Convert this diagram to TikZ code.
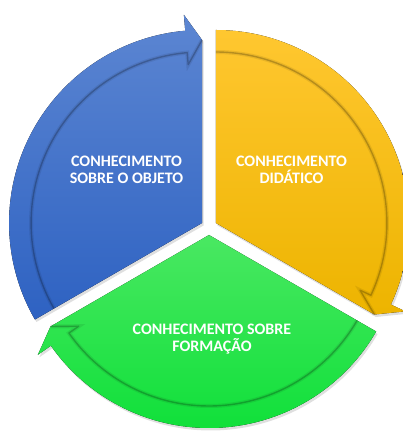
\documentclass[tikz,border=0pt]{standalone}
\usepackage{fontspec}
\setmainfont{Carlito}
\usetikzlibrary{calc,shadows}
\definecolor{bluetop}{RGB}{92,134,210}
\definecolor{bluebot}{RGB}{46,98,194}
\definecolor{yellowtop}{RGB}{255,199,48}
\definecolor{yellowbot}{RGB}{237,180,0}
\definecolor{greentop}{RGB}{74,232,98}
\definecolor{greenbot}{RGB}{16,224,58}
\tikzstyle{segment} = [draw=none, drop shadow={opacity=0.25, shadow xshift=1.5pt, shadow yshift=-2.5pt}]
\tikzstyle{bandline} = [line width=1.4pt, draw=black, opacity=0.22, line join=round, preaction={draw=black, opacity=0.08, line width=4pt}]
\tikzstyle{segtext} = [text=white, align=center, font=\fontsize{16}{17.6}\selectfont\bfseries]

\begin{document}
\begin{tikzpicture}[x=1pt, y=1pt]
  \useasboundingbox (0,0) rectangle (402,431);
  \coordinate (cb) at (202.07,208);
  \coordinate (cy) at (215.93,208);
  \coordinate (cg) at (209,196);

  \fill [segment, top color=greentop, bottom color=greenbot] (cg) -- ($(cg)+(-30:193)$) arc[start angle=-30, end angle=-145, radius=193] -- ($(cg)+(-145:209)$) -- ($(cg)+(-150:183)$) -- cycle;
  \draw [bandline] ($(cg)+(-150:183)$) -- ($(cg)+(-145:159)$) -- ($(cg)+(-145:171)$) arc[start angle=-145, end angle=-30, radius=171];

  \fill [segment, top color=bluetop, bottom color=bluebot] (cb) -- ($(cb)+(210:193)$) arc[start angle=210, end angle=95, radius=193] -- ($(cb)+(95:209)$) -- ($(cb)+(90:183)$) -- cycle;
  \draw [bandline] ($(cb)+(90:183)$) -- ($(cb)+(95:159)$) -- ($(cb)+(95:171)$) arc[start angle=95, end angle=210, radius=171];

  \fill [segment, top color=yellowtop, bottom color=yellowbot] (cy) -- ($(cy)+(90:193)$) arc[start angle=90, end angle=-25, radius=193] -- ($(cy)+(-25:209)$) -- ($(cy)+(-30:183)$) -- cycle;
  \draw [bandline] ($(cy)+(-30:183)$) -- ($(cy)+(-25:159)$) -- ($(cy)+(-25:171)$) arc[start angle=-25, end angle=90, radius=171];

  \node (objeto) [segtext] at (126.5,261) {CONHECIMENTO\\SOBRE O OBJETO};
  \node (didatico) [segtext] at (291.5,261) {CONHECIMENTO\\DIDÁTICO};
  \node (formacao) [segtext] at (212,92) {CONHECIMENTO SOBRE\\FORMAÇÃO};
\end{tikzpicture}
\end{document}
